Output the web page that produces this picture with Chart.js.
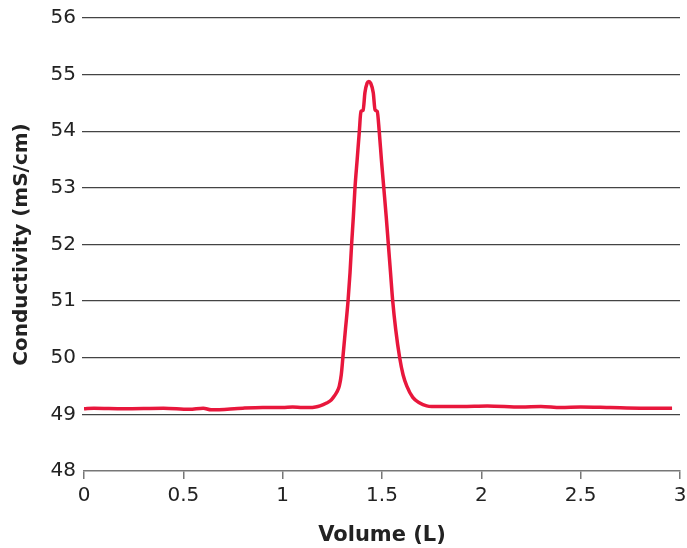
<!DOCTYPE html>
<html>
<head>
<meta charset="utf-8">
<script src="https://cdn.jsdelivr.net/npm/chart.js@4/dist/chart.umd.min.js"></script>
<style>
  html, body { margin: 0; padding: 0; background: #fff; }
  #wrap { width: 687px; height: 548px; }
</style>
</head>
<body>
<div id="wrap"><canvas id="chart" width="687" height="548"></canvas></div>
<script>
// volume (L)
const volume = [
  0, 0.05, 0.2, 0.4, 0.53, 0.6, 0.64, 0.8, 0.9, 1.0, 1.05, 1.1, 1.137, 1.165,
  1.188, 1.221, 1.24, 1.255, 1.272, 1.285, 1.295, 1.303, 1.316, 1.329, 1.339, 1.347, 1.356, 1.364, 1.375, 1.386,
  1.394, 1.405, 1.414, 1.425, 1.434, 1.443, 1.456, 1.465, 1.476, 1.486,
  1.497, 1.509, 1.521, 1.532, 1.543, 1.554, 1.569, 1.589, 1.606, 1.625, 1.655, 1.69, 1.725, 1.75,
  1.9, 2.03, 2.2, 2.3, 2.4, 2.5, 2.65, 2.8, 2.96
];
// conductivity (mS/cm)
const conductivity = [
  49.10, 49.11, 49.10, 49.11, 49.09, 49.11, 49.08, 49.11, 49.12, 49.12, 49.13, 49.12, 49.12, 49.13,
  49.15, 49.20, 49.24, 49.30, 49.39, 49.50, 49.70, 50.00, 50.50, 51.00, 51.50, 52.00, 52.50, 53.00, 53.50, 54.00,
  54.35, 54.37, 54.68, 54.85, 54.88, 54.85, 54.68, 54.38, 54.35, 54.00,
  53.50, 53.00, 52.50, 52.00, 51.50, 51.00, 50.50, 50.00, 49.70, 49.50, 49.30, 49.20, 49.15, 49.14,
  49.14, 49.15, 49.13, 49.14, 49.12, 49.13, 49.12, 49.11, 49.11
];
const xTicks = [0, 0.5, 1, 1.5, 2, 2.5, 3];

const font = 'DejaVu Sans, Verdana, sans-serif';
const points = volume.map((v, i) => ({ x: v, y: conductivity[i] }));

new Chart(document.getElementById('chart'), {
  type: 'line',
  data: {
    datasets: [{
      data: points,
      borderColor: '#e8173c',
      borderWidth: 3.5,
      pointRadius: 0,
      fill: false,
      cubicInterpolationMode: 'monotone',
    }],
  },
  options: {
    responsive: false,
    animation: false,
    layout: { padding: { top: 10, right: 0, left: 0, bottom: 0 } },
    plugins: { legend: { display: false }, tooltip: { enabled: false } },
    scales: {
      x: {
        type: 'linear',
        min: 0,
        max: 3,
        afterBuildTicks: (axis) => { axis.ticks = xTicks.map(v => ({ value: v })); },
        afterFit: (axis) => {
          axis.height = 77;
          axis.paddingRight = 7; // plot runs right up to the "3" label
        },
        border: { display: true, color: '#777', width: 1.5 },
        grid: { drawOnChartArea: false, drawTicks: true, tickLength: 8, color: '#777', lineWidth: 1.5 },
        ticks: {
          color: '#222',
          font: { family: font, size: 20 },
          padding: 5,
          maxRotation: 0,
          callback: (v) => String(v),
        },
        title: { display: true, text: 'Volume (L)', color: '#222', font: { family: font, size: 21, weight: 'bold' }, padding: { top: 8, bottom: 0 } },
      },
      y: {
        min: 48,
        max: 56,
        afterFit: (axis) => { axis.width = 84; },
        border: { display: false },
        grid: {
          color: (ctx) => (ctx.tick && ctx.tick.value === 48 ? 'rgba(0,0,0,0)' : '#444'),
          lineWidth: 1.3,
          drawTicks: true,
          tickLength: 2,
        },
        ticks: { stepSize: 1, color: '#222', font: { family: font, size: 20 }, padding: 6 },
        title: { display: true, text: 'Conductivity (mS/cm)', color: '#222', font: { family: font, size: 20, weight: 'bold' }, padding: { top: 10, bottom: 0 } },
      },
    },
  },
});
</script>
</body>
</html>
